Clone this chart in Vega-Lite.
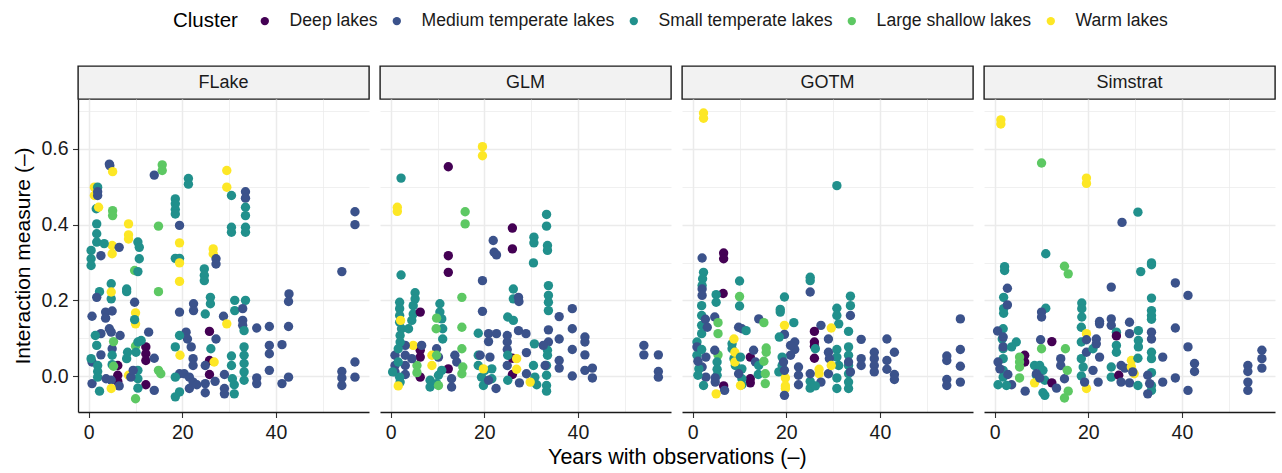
{
"$schema": "https://vega.github.io/schema/vega-lite/v6.json",
"padding": {"left": 12, "top": 12, "right": 5, "bottom": 5},
"spacing": 9,
"title": {"text": "Years with observations (\u2013)", "orient": "bottom", "anchor": "middle", "fontSize": 21.5, "fontWeight": "normal", "color": "#000000", "offset": 5, "dx": 33},
"datasets": {
"strips": [{"m":"F","label":"FLake"},{"m":"G","label":"GLM"},{"m":"O","label":"GOTM"},{"m":"S","label":"Simstrat"}],
"pts": [
{"m":"F","c":"M","x":4.4,"y":0.56},{"m":"F","c":"M","x":4.5,"y":0.556},{"m":"F","c":"W","x":5.1,"y":0.54},{"m":"F","c":"M","x":14.0,"y":0.531},{"m":"F","c":"L","x":15.7,"y":0.558},{"m":"F","c":"L","x":15.7,"y":0.543},{"m":"F","c":"S","x":21.3,"y":0.522},{"m":"F","c":"S","x":21.3,"y":0.507},{"m":"F","c":"W","x":29.5,"y":0.543},{"m":"F","c":"W","x":29.5,"y":0.499},{"m":"F","c":"S","x":30.5,"y":0.477},{"m":"F","c":"M","x":33.5,"y":0.487},{"m":"F","c":"M","x":33.5,"y":0.47},{"m":"F","c":"S","x":33.5,"y":0.446},{"m":"F","c":"S","x":33.5,"y":0.424},{"m":"F","c":"S","x":30.5,"y":0.393},{"m":"F","c":"S","x":30.5,"y":0.38},{"m":"F","c":"S","x":33.5,"y":0.393},{"m":"F","c":"S","x":33.5,"y":0.38},{"m":"F","c":"W","x":1.2,"y":0.499},{"m":"F","c":"W","x":1.2,"y":0.477},{"m":"F","c":"S","x":1.9,"y":0.499},{"m":"F","c":"M","x":1.9,"y":0.477},{"m":"F","c":"M","x":1.9,"y":0.487},{"m":"F","c":"S","x":1.6,"y":0.442},{"m":"F","c":"W","x":2.1,"y":0.446},{"m":"F","c":"L","x":5.1,"y":0.437},{"m":"F","c":"L","x":5.1,"y":0.424},{"m":"F","c":"S","x":18.5,"y":0.468},{"m":"F","c":"S","x":18.5,"y":0.455},{"m":"F","c":"S","x":18.5,"y":0.44},{"m":"F","c":"S","x":18.5,"y":0.428},{"m":"F","c":"M","x":19.4,"y":0.398},{"m":"F","c":"W","x":8.5,"y":0.402},{"m":"F","c":"W","x":8.5,"y":0.373},{"m":"F","c":"W","x":8.5,"y":0.362},{"m":"F","c":"L","x":14.9,"y":0.396},{"m":"F","c":"S","x":1.7,"y":0.402},{"m":"F","c":"S","x":1.7,"y":0.376},{"m":"F","c":"S","x":1.7,"y":0.354},{"m":"F","c":"S","x":10.5,"y":0.354},{"m":"F","c":"S","x":10.8,"y":0.34},{"m":"F","c":"W","x":5.0,"y":0.345},{"m":"F","c":"W","x":5.0,"y":0.323},{"m":"F","c":"M","x":6.5,"y":0.34},{"m":"F","c":"S","x":0.5,"y":0.332},{"m":"F","c":"S","x":0.5,"y":0.31},{"m":"F","c":"S","x":0.5,"y":0.292},{"m":"F","c":"S","x":3.3,"y":0.35},{"m":"F","c":"M","x":2.6,"y":0.318},{"m":"F","c":"S","x":10.8,"y":0.31},{"m":"F","c":"W","x":19.4,"y":0.352},{"m":"F","c":"S","x":18.5,"y":0.311},{"m":"F","c":"S","x":19.4,"y":0.311},{"m":"F","c":"W","x":19.4,"y":0.299},{"m":"F","c":"W","x":26.6,"y":0.336},{"m":"F","c":"W","x":26.6,"y":0.323},{"m":"F","c":"M","x":27.2,"y":0.31},{"m":"F","c":"M","x":27.2,"y":0.296},{"m":"F","c":"S","x":24.7,"y":0.283},{"m":"F","c":"S","x":24.7,"y":0.266},{"m":"F","c":"S","x":24.7,"y":0.252},{"m":"F","c":"L","x":9.8,"y":0.279},{"m":"F","c":"S","x":10.5,"y":0.276},{"m":"F","c":"W","x":19.4,"y":0.25},{"m":"F","c":"S","x":4.8,"y":0.244},{"m":"F","c":"S","x":4.8,"y":0.204},{"m":"F","c":"W","x":4.8,"y":0.222},{"m":"F","c":"S","x":2.3,"y":0.223},{"m":"F","c":"M","x":1.7,"y":0.208},{"m":"F","c":"S","x":8.1,"y":0.23},{"m":"F","c":"S","x":8.1,"y":0.223},{"m":"F","c":"L","x":14.9,"y":0.223},{"m":"F","c":"M","x":9.8,"y":0.195},{"m":"F","c":"M","x":0.7,"y":0.158},{"m":"F","c":"M","x":3.6,"y":0.169},{"m":"F","c":"M","x":3.6,"y":0.153},{"m":"F","c":"M","x":5.0,"y":0.172},{"m":"F","c":"S","x":26.0,"y":0.208},{"m":"F","c":"S","x":26.0,"y":0.191},{"m":"F","c":"M","x":22.4,"y":0.191},{"m":"F","c":"M","x":22.4,"y":0.173},{"m":"F","c":"M","x":19.4,"y":0.169},{"m":"F","c":"S","x":24.9,"y":0.164},{"m":"F","c":"S","x":31.2,"y":0.2},{"m":"F","c":"S","x":31.2,"y":0.173},{"m":"F","c":"S","x":33.5,"y":0.2},{"m":"F","c":"M","x":32.9,"y":0.178},{"m":"F","c":"M","x":28.8,"y":0.158},{"m":"F","c":"W","x":10.0,"y":0.167},{"m":"F","c":"W","x":10.0,"y":0.138},{"m":"F","c":"S","x":9.8,"y":0.149},{"m":"F","c":"M","x":32.9,"y":0.147},{"m":"F","c":"M","x":32.9,"y":0.134},{"m":"F","c":"S","x":33.2,"y":0.12},{"m":"F","c":"W","x":29.5,"y":0.138},{"m":"F","c":"M","x":35.9,"y":0.127},{"m":"F","c":"M","x":38.6,"y":0.131},{"m":"F","c":"M","x":42.8,"y":0.217},{"m":"F","c":"M","x":42.7,"y":0.197},{"m":"F","c":"M","x":42.7,"y":0.131},{"m":"F","c":"M","x":54.1,"y":0.276},{"m":"F","c":"M","x":56.9,"y":0.434},{"m":"F","c":"M","x":56.9,"y":0.4},{"m":"F","c":"M","x":54.1,"y":0.012},{"m":"F","c":"M","x":54.1,"y":-0.005},{"m":"F","c":"M","x":54.1,"y":-0.025},{"m":"F","c":"M","x":56.9,"y":0.037},{"m":"F","c":"M","x":56.9,"y":-0.003},{"m":"F","c":"D","x":25.8,"y":0.118},{"m":"F","c":"D","x":25.8,"y":0.041},{"m":"F","c":"D","x":25.8,"y":0.004},{"m":"F","c":"D","x":12.2,"y":0.077},{"m":"F","c":"D","x":12.2,"y":0.059},{"m":"F","c":"D","x":12.2,"y":0.041},{"m":"F","c":"D","x":12.2,"y":-0.023},{"m":"F","c":"D","x":6.2,"y":0.028},{"m":"F","c":"D","x":6.2,"y":0.002},{"m":"F","c":"D","x":6.2,"y":-0.014},{"m":"F","c":"M","x":41.3,"y":0.083},{"m":"F","c":"M","x":38.6,"y":0.081},{"m":"F","c":"M","x":38.6,"y":0.059},{"m":"F","c":"M","x":38.6,"y":0.015},{"m":"F","c":"M","x":42.7,"y":-0.003},{"m":"F","c":"M","x":41.3,"y":-0.02},{"m":"F","c":"M","x":35.9,"y":-0.005},{"m":"F","c":"M","x":35.9,"y":-0.02},{"m":"F","c":"M","x":12.8,"y":0.116},{"m":"F","c":"S","x":33.2,"y":0.077},{"m":"F","c":"S","x":33.2,"y":0.055},{"m":"F","c":"S","x":33.2,"y":0.033},{"m":"F","c":"S","x":33.2,"y":0.011},{"m":"F","c":"S","x":33.2,"y":-0.011},{"m":"F","c":"S","x":30.5,"y":0.053},{"m":"F","c":"S","x":30.5,"y":0.028},{"m":"F","c":"S","x":30.7,"y":-0.007},{"m":"F","c":"M","x":29.0,"y":0.004},{"m":"F","c":"M","x":29.0,"y":-0.033},{"m":"F","c":"M","x":29.0,"y":-0.047},{"m":"F","c":"S","x":31.1,"y":-0.023},{"m":"F","c":"S","x":31.1,"y":-0.047},{"m":"F","c":"W","x":26.8,"y":0.037},{"m":"F","c":"M","x":27.2,"y":0.098},{"m":"F","c":"M","x":24.9,"y":0.028},{"m":"F","c":"M","x":24.9,"y":-0.02},{"m":"F","c":"M","x":24.9,"y":-0.044},{"m":"F","c":"M","x":27.0,"y":-0.014},{"m":"F","c":"S","x":26.1,"y":0.072},{"m":"F","c":"M","x":20.8,"y":0.116},{"m":"F","c":"M","x":21.1,"y":0.098},{"m":"F","c":"M","x":21.9,"y":0.077},{"m":"F","c":"S","x":19.4,"y":0.107},{"m":"F","c":"S","x":18.5,"y":0.077},{"m":"F","c":"W","x":19.5,"y":0.055},{"m":"F","c":"M","x":22.3,"y":0.046},{"m":"F","c":"M","x":22.3,"y":0.028},{"m":"F","c":"M","x":19.4,"y":0.006},{"m":"F","c":"M","x":20.4,"y":0.006},{"m":"F","c":"M","x":21.5,"y":-0.003},{"m":"F","c":"M","x":22.3,"y":-0.016},{"m":"F","c":"M","x":21.5,"y":-0.033},{"m":"F","c":"M","x":23.1,"y":-0.023},{"m":"F","c":"S","x":18.5,"y":-0.003},{"m":"F","c":"S","x":19.4,"y":-0.042},{"m":"F","c":"S","x":18.5,"y":-0.055},{"m":"F","c":"M","x":14.0,"y":-0.038},{"m":"F","c":"L","x":14.9,"y":0.015},{"m":"F","c":"L","x":15.4,"y":0.006},{"m":"F","c":"S","x":10.5,"y":0.015},{"m":"F","c":"S","x":10.5,"y":-0.007},{"m":"F","c":"S","x":10.5,"y":-0.032},{"m":"F","c":"L","x":10.0,"y":-0.06},{"m":"F","c":"S","x":8.3,"y":0.063},{"m":"F","c":"S","x":8.1,"y":0.046},{"m":"F","c":"W","x":8.5,"y":0.002},{"m":"F","c":"M","x":9.0,"y":-0.003},{"m":"F","c":"M","x":9.5,"y":0.015},{"m":"F","c":"L","x":10.0,"y":0.079},{"m":"F","c":"S","x":10.1,"y":0.063},{"m":"F","c":"S","x":10.5,"y":0.09},{"m":"F","c":"S","x":11.2,"y":0.094},{"m":"F","c":"M","x":14.0,"y":0.047},{"m":"F","c":"M","x":0.7,"y":0.037},{"m":"F","c":"M","x":0.7,"y":-0.02},{"m":"F","c":"S","x":0.5,"y":0.046},{"m":"F","c":"S","x":1.7,"y":0.081},{"m":"F","c":"S","x":1.9,"y":0.028},{"m":"F","c":"S","x":1.9,"y":0.012},{"m":"F","c":"S","x":1.9,"y":-0.003},{"m":"F","c":"S","x":2.3,"y":-0.04},{"m":"F","c":"M","x":2.6,"y":0.112},{"m":"F","c":"M","x":2.6,"y":0.056},{"m":"F","c":"M","x":4.4,"y":0.125},{"m":"F","c":"M","x":4.8,"y":0.116},{"m":"F","c":"M","x":5.0,"y":0.072},{"m":"F","c":"L","x":5.3,"y":0.091},{"m":"F","c":"S","x":5.0,"y":0.055},{"m":"F","c":"S","x":5.0,"y":0.03},{"m":"F","c":"L","x":5.3,"y":0.026},{"m":"F","c":"M","x":3.7,"y":-0.007},{"m":"F","c":"M","x":4.8,"y":-0.011},{"m":"F","c":"M","x":6.5,"y":-0.026},{"m":"F","c":"W","x":4.8,"y":-0.033},{"m":"F","c":"M","x":6.7,"y":0.107},{"m":"F","c":"S","x":1.4,"y":0.107},
{"m":"G","c":"W","x":19.6,"y":0.606},{"m":"G","c":"W","x":19.6,"y":0.582},{"m":"G","c":"D","x":12.3,"y":0.553},{"m":"G","c":"S","x":2.2,"y":0.523},{"m":"G","c":"W","x":1.4,"y":0.446},{"m":"G","c":"W","x":1.4,"y":0.435},{"m":"G","c":"L","x":15.9,"y":0.434},{"m":"G","c":"L","x":15.9,"y":0.402},{"m":"G","c":"D","x":26.0,"y":0.391},{"m":"G","c":"D","x":26.0,"y":0.336},{"m":"G","c":"S","x":33.3,"y":0.427},{"m":"G","c":"S","x":33.3,"y":0.396},{"m":"G","c":"S","x":30.6,"y":0.367},{"m":"G","c":"S","x":30.6,"y":0.352},{"m":"G","c":"S","x":33.5,"y":0.345},{"m":"G","c":"S","x":33.5,"y":0.332},{"m":"G","c":"S","x":30.5,"y":0.299},{"m":"G","c":"M","x":21.9,"y":0.358},{"m":"G","c":"M","x":22.1,"y":0.327},{"m":"G","c":"M","x":22.6,"y":0.32},{"m":"G","c":"D","x":12.3,"y":0.318},{"m":"G","c":"D","x":12.3,"y":0.274},{"m":"G","c":"S","x":2.2,"y":0.267},{"m":"G","c":"M","x":19.6,"y":0.252},{"m":"G","c":"L","x":15.2,"y":0.208},{"m":"G","c":"S","x":26.2,"y":0.23},{"m":"G","c":"S","x":26.2,"y":0.204},{"m":"G","c":"M","x":27.3,"y":0.208},{"m":"G","c":"M","x":27.4,"y":0.197},{"m":"G","c":"S","x":33.7,"y":0.239},{"m":"G","c":"S","x":33.7,"y":0.213},{"m":"G","c":"S","x":33.7,"y":0.195},{"m":"G","c":"S","x":33.7,"y":0.173},{"m":"G","c":"S","x":1.9,"y":0.195},{"m":"G","c":"S","x":1.9,"y":0.178},{"m":"G","c":"S","x":1.9,"y":0.16},{"m":"G","c":"S","x":1.9,"y":0.142},{"m":"G","c":"S","x":2.3,"y":0.125},{"m":"G","c":"S","x":5.2,"y":0.22},{"m":"G","c":"S","x":5.2,"y":0.204},{"m":"G","c":"S","x":4.8,"y":0.186},{"m":"G","c":"S","x":4.8,"y":0.164},{"m":"G","c":"S","x":4.5,"y":0.147},{"m":"G","c":"S","x":3.8,"y":0.125},{"m":"G","c":"D","x":6.3,"y":0.169},{"m":"G","c":"S","x":10.5,"y":0.191},{"m":"G","c":"S","x":10.5,"y":0.169},{"m":"G","c":"S","x":10.9,"y":0.151},{"m":"G","c":"S","x":11.1,"y":0.125},{"m":"G","c":"S","x":11.1,"y":0.098},{"m":"G","c":"L","x":9.8,"y":0.153},{"m":"G","c":"L","x":9.7,"y":0.125},{"m":"G","c":"L","x":15.2,"y":0.129},{"m":"G","c":"L","x":15.2,"y":0.072},{"m":"G","c":"M","x":19.6,"y":0.171},{"m":"G","c":"S","x":25.0,"y":0.156},{"m":"G","c":"S","x":26.2,"y":0.147},{"m":"G","c":"M","x":27.3,"y":0.12},{"m":"G","c":"M","x":28.9,"y":0.112},{"m":"G","c":"M","x":33.7,"y":0.122},{"m":"G","c":"M","x":33.7,"y":0.09},{"m":"G","c":"M","x":36.0,"y":0.157},{"m":"G","c":"M","x":36.0,"y":0.098},{"m":"G","c":"M","x":38.8,"y":0.178},{"m":"G","c":"M","x":38.8,"y":0.125},{"m":"G","c":"M","x":38.8,"y":0.07},{"m":"G","c":"M","x":41.5,"y":0.103},{"m":"G","c":"M","x":41.5,"y":0.09},{"m":"G","c":"M","x":41.5,"y":0.056},{"m":"G","c":"M","x":41.5,"y":0.015},{"m":"G","c":"M","x":43.1,"y":0.021},{"m":"G","c":"M","x":43.1,"y":-0.005},{"m":"G","c":"M","x":38.8,"y":0.0},{"m":"G","c":"M","x":36.0,"y":0.041},{"m":"G","c":"M","x":36.0,"y":0.021},{"m":"G","c":"M","x":54.1,"y":0.081},{"m":"G","c":"M","x":54.1,"y":0.056},{"m":"G","c":"M","x":57.2,"y":0.056},{"m":"G","c":"M","x":57.2,"y":0.012},{"m":"G","c":"M","x":57.2,"y":-0.003},{"m":"G","c":"S","x":18.7,"y":0.113},{"m":"G","c":"M","x":20.9,"y":0.112},{"m":"G","c":"M","x":22.6,"y":0.112},{"m":"G","c":"M","x":20.9,"y":0.091},{"m":"G","c":"M","x":24.9,"y":0.107},{"m":"G","c":"M","x":24.9,"y":0.09},{"m":"G","c":"M","x":24.9,"y":0.07},{"m":"G","c":"M","x":24.9,"y":0.028},{"m":"G","c":"S","x":30.7,"y":0.085},{"m":"G","c":"M","x":29.0,"y":0.062},{"m":"G","c":"S","x":33.5,"y":0.068},{"m":"G","c":"S","x":33.5,"y":0.055},{"m":"G","c":"S","x":33.3,"y":0.028},{"m":"G","c":"S","x":33.3,"y":0.002},{"m":"G","c":"S","x":33.3,"y":-0.025},{"m":"G","c":"S","x":33.3,"y":-0.04},{"m":"G","c":"M","x":32.6,"y":0.081},{"m":"G","c":"M","x":33.0,"y":0.028},{"m":"G","c":"D","x":26.0,"y":0.047},{"m":"G","c":"D","x":26.0,"y":0.004},{"m":"G","c":"W","x":26.9,"y":0.046},{"m":"G","c":"W","x":26.9,"y":0.018},{"m":"G","c":"S","x":25.0,"y":0.055},{"m":"G","c":"S","x":25.0,"y":-0.011},{"m":"G","c":"M","x":27.5,"y":-0.018},{"m":"G","c":"S","x":30.5,"y":0.028},{"m":"G","c":"S","x":30.8,"y":-0.003},{"m":"G","c":"S","x":31.2,"y":-0.023},{"m":"G","c":"W","x":29.8,"y":-0.016},{"m":"G","c":"M","x":29.0,"y":0.006},{"m":"G","c":"S","x":18.7,"y":0.055},{"m":"G","c":"S","x":18.7,"y":0.028},{"m":"G","c":"S","x":19.4,"y":-0.003},{"m":"G","c":"S","x":19.8,"y":-0.025},{"m":"G","c":"S","x":20.1,"y":0.015},{"m":"G","c":"S","x":21.6,"y":0.019},{"m":"G","c":"S","x":21.6,"y":-0.007},{"m":"G","c":"W","x":19.8,"y":0.019},{"m":"G","c":"M","x":19.1,"y":0.055},{"m":"G","c":"M","x":21.2,"y":0.05},{"m":"G","c":"M","x":20.9,"y":-0.011},{"m":"G","c":"M","x":22.5,"y":-0.033},{"m":"G","c":"D","x":12.3,"y":0.019},{"m":"G","c":"M","x":13.0,"y":-0.007},{"m":"G","c":"M","x":13.0,"y":-0.029},{"m":"G","c":"M","x":13.7,"y":0.055},{"m":"G","c":"M","x":14.1,"y":0.037},{"m":"G","c":"L","x":15.4,"y":0.024},{"m":"G","c":"L","x":15.2,"y":0.006},{"m":"G","c":"M","x":9.8,"y":0.072},{"m":"G","c":"M","x":10.2,"y":0.05},{"m":"G","c":"W","x":8.8,"y":0.055},{"m":"G","c":"W","x":8.8,"y":0.028},{"m":"G","c":"S","x":8.4,"y":-0.011},{"m":"G","c":"S","x":8.4,"y":-0.029},{"m":"G","c":"S","x":9.8,"y":-0.02},{"m":"G","c":"S","x":10.2,"y":0.002},{"m":"G","c":"S","x":10.9,"y":0.015},{"m":"G","c":"L","x":9.8,"y":0.055},{"m":"G","c":"L","x":10.2,"y":-0.025},{"m":"G","c":"D","x":6.3,"y":0.068},{"m":"G","c":"D","x":6.3,"y":0.05},{"m":"G","c":"D","x":6.3,"y":-0.003},{"m":"G","c":"W","x":4.8,"y":0.081},{"m":"G","c":"M","x":6.6,"y":0.081},{"m":"G","c":"L","x":5.6,"y":0.028},{"m":"G","c":"L","x":5.6,"y":0.009},{"m":"G","c":"M","x":3.1,"y":0.081},{"m":"G","c":"M","x":3.1,"y":0.055},{"m":"G","c":"M","x":3.1,"y":0.028},{"m":"G","c":"M","x":3.1,"y":0.004},{"m":"G","c":"M","x":0.9,"y":0.055},{"m":"G","c":"M","x":0.9,"y":0.028},{"m":"G","c":"M","x":0.9,"y":0.011},{"m":"G","c":"S","x":0.4,"y":0.011},{"m":"G","c":"S","x":1.9,"y":-0.003},{"m":"G","c":"S","x":2.0,"y":-0.016},{"m":"G","c":"W","x":1.6,"y":-0.026},{"m":"G","c":"S","x":2.0,"y":0.107},{"m":"G","c":"S","x":2.0,"y":0.09},{"m":"G","c":"S","x":1.6,"y":0.072},{"m":"G","c":"S","x":1.6,"y":0.037},{"m":"G","c":"W","x":2.1,"y":0.147},{"m":"G","c":"M","x":4.5,"y":0.046},
{"m":"O","c":"W","x":2.3,"y":0.695},{"m":"O","c":"W","x":2.3,"y":0.681},{"m":"O","c":"S","x":30.8,"y":0.503},{"m":"O","c":"D","x":6.6,"y":0.325},{"m":"O","c":"D","x":6.6,"y":0.31},{"m":"O","c":"M","x":2.0,"y":0.312},{"m":"O","c":"S","x":2.3,"y":0.274},{"m":"O","c":"S","x":2.1,"y":0.257},{"m":"O","c":"S","x":2.0,"y":0.239},{"m":"O","c":"M","x":2.0,"y":0.23},{"m":"O","c":"M","x":2.0,"y":0.213},{"m":"O","c":"D","x":6.5,"y":0.218},{"m":"O","c":"S","x":5.0,"y":0.215},{"m":"O","c":"S","x":5.0,"y":0.195},{"m":"O","c":"S","x":10.0,"y":0.251},{"m":"O","c":"L","x":10.0,"y":0.21},{"m":"O","c":"S","x":10.0,"y":0.185},{"m":"O","c":"S","x":25.1,"y":0.261},{"m":"O","c":"S","x":25.1,"y":0.252},{"m":"O","c":"M","x":25.1,"y":0.222},{"m":"O","c":"S","x":19.6,"y":0.209},{"m":"O","c":"S","x":18.7,"y":0.176},{"m":"O","c":"S","x":18.7,"y":0.169},{"m":"O","c":"S","x":33.7,"y":0.211},{"m":"O","c":"S","x":33.7,"y":0.186},{"m":"O","c":"M","x":33.7,"y":0.16},{"m":"O","c":"S","x":30.8,"y":0.179},{"m":"O","c":"S","x":30.8,"y":0.16},{"m":"O","c":"S","x":31.2,"y":0.138},{"m":"O","c":"S","x":1.9,"y":0.186},{"m":"O","c":"S","x":1.9,"y":0.16},{"m":"O","c":"S","x":1.9,"y":0.134},{"m":"O","c":"S","x":1.9,"y":0.112},{"m":"O","c":"M","x":2.7,"y":0.15},{"m":"O","c":"M","x":3.1,"y":0.129},{"m":"O","c":"M","x":4.7,"y":0.156},{"m":"O","c":"L","x":5.4,"y":0.141},{"m":"O","c":"L","x":5.4,"y":0.112},{"m":"O","c":"M","x":14.1,"y":0.151},{"m":"O","c":"L","x":15.2,"y":0.141},{"m":"O","c":"M","x":9.8,"y":0.129},{"m":"O","c":"M","x":10.5,"y":0.125},{"m":"O","c":"S","x":11.4,"y":0.12},{"m":"O","c":"S","x":21.6,"y":0.141},{"m":"O","c":"W","x":19.6,"y":0.134},{"m":"O","c":"M","x":19.6,"y":0.11},{"m":"O","c":"S","x":18.5,"y":0.103},{"m":"O","c":"W","x":29.6,"y":0.127},{"m":"O","c":"M","x":27.4,"y":0.134},{"m":"O","c":"D","x":26.0,"y":0.118},{"m":"O","c":"D","x":26.0,"y":0.09},{"m":"O","c":"D","x":26.0,"y":0.079},{"m":"O","c":"D","x":26.0,"y":0.047},{"m":"O","c":"M","x":29.0,"y":0.098},{"m":"O","c":"S","x":33.3,"y":0.118},{"m":"O","c":"M","x":36.0,"y":0.097},{"m":"O","c":"M","x":41.5,"y":0.098},{"m":"O","c":"M","x":57.2,"y":0.151},{"m":"O","c":"M","x":57.2,"y":0.07},{"m":"O","c":"M","x":57.2,"y":0.026},{"m":"O","c":"M","x":57.2,"y":-0.016},{"m":"O","c":"M","x":54.3,"y":0.053},{"m":"O","c":"M","x":54.3,"y":0.041},{"m":"O","c":"M","x":54.3,"y":-0.009},{"m":"O","c":"M","x":54.3,"y":-0.025},{"m":"O","c":"M","x":43.1,"y":0.063},{"m":"O","c":"M","x":38.8,"y":0.063},{"m":"O","c":"M","x":38.8,"y":0.046},{"m":"O","c":"M","x":38.8,"y":0.028},{"m":"O","c":"M","x":38.8,"y":0.011},{"m":"O","c":"M","x":41.5,"y":0.041},{"m":"O","c":"M","x":41.5,"y":0.018},{"m":"O","c":"M","x":43.1,"y":0.004},{"m":"O","c":"M","x":43.1,"y":-0.009},{"m":"O","c":"M","x":36.0,"y":0.046},{"m":"O","c":"M","x":36.0,"y":0.028},{"m":"O","c":"S","x":33.3,"y":0.077},{"m":"O","c":"S","x":33.3,"y":0.055},{"m":"O","c":"S","x":33.3,"y":0.028},{"m":"O","c":"S","x":33.3,"y":0.006},{"m":"O","c":"S","x":33.3,"y":-0.016},{"m":"O","c":"S","x":33.3,"y":-0.033},{"m":"O","c":"M","x":33.3,"y":0.037},{"m":"O","c":"M","x":33.7,"y":0.011},{"m":"O","c":"S","x":30.8,"y":0.07},{"m":"O","c":"S","x":30.8,"y":0.05},{"m":"O","c":"S","x":31.2,"y":0.028},{"m":"O","c":"S","x":30.8,"y":-0.005},{"m":"O","c":"S","x":30.8,"y":-0.033},{"m":"O","c":"M","x":29.0,"y":0.063},{"m":"O","c":"M","x":29.2,"y":0.046},{"m":"O","c":"M","x":29.0,"y":0.006},{"m":"O","c":"W","x":29.6,"y":0.028},{"m":"O","c":"W","x":27.0,"y":0.018},{"m":"O","c":"W","x":27.0,"y":0.006},{"m":"O","c":"M","x":27.4,"y":-0.016},{"m":"O","c":"S","x":25.1,"y":-0.014},{"m":"O","c":"S","x":25.1,"y":-0.032},{"m":"O","c":"S","x":26.2,"y":-0.026},{"m":"O","c":"M","x":25.1,"y":0.006},{"m":"O","c":"S","x":26.2,"y":0.072},{"m":"O","c":"M","x":21.8,"y":0.09},{"m":"O","c":"M","x":21.8,"y":0.07},{"m":"O","c":"M","x":20.9,"y":0.081},{"m":"O","c":"M","x":20.9,"y":0.055},{"m":"O","c":"M","x":22.6,"y":0.024},{"m":"O","c":"M","x":22.6,"y":0.002},{"m":"O","c":"M","x":22.6,"y":-0.023},{"m":"O","c":"S","x":19.1,"y":0.05},{"m":"O","c":"S","x":19.1,"y":0.028},{"m":"O","c":"S","x":18.4,"y":0.011},{"m":"O","c":"W","x":19.8,"y":-0.005},{"m":"O","c":"W","x":19.8,"y":-0.026},{"m":"O","c":"W","x":19.8,"y":-0.033},{"m":"O","c":"M","x":19.6,"y":-0.051},{"m":"O","c":"M","x":19.4,"y":0.037},{"m":"O","c":"M","x":19.6,"y":0.015},{"m":"O","c":"D","x":12.3,"y":0.05},{"m":"O","c":"D","x":12.3,"y":-0.007},{"m":"O","c":"D","x":12.3,"y":-0.018},{"m":"O","c":"M","x":13.0,"y":0.068},{"m":"O","c":"M","x":13.4,"y":0.037},{"m":"O","c":"S","x":14.0,"y":0.004},{"m":"O","c":"S","x":14.1,"y":0.028},{"m":"O","c":"L","x":15.7,"y":0.074},{"m":"O","c":"L","x":15.7,"y":0.063},{"m":"O","c":"L","x":15.2,"y":0.039},{"m":"O","c":"L","x":15.5,"y":0.006},{"m":"O","c":"L","x":15.5,"y":-0.02},{"m":"O","c":"S","x":8.4,"y":0.085},{"m":"O","c":"S","x":8.4,"y":0.072},{"m":"O","c":"S","x":8.8,"y":0.046},{"m":"O","c":"S","x":9.1,"y":0.028},{"m":"O","c":"W","x":8.8,"y":0.098},{"m":"O","c":"W","x":9.0,"y":0.063},{"m":"O","c":"W","x":9.0,"y":0.037},{"m":"O","c":"S","x":10.2,"y":0.05},{"m":"O","c":"S","x":10.5,"y":0.019},{"m":"O","c":"S","x":10.5,"y":-0.007},{"m":"O","c":"S","x":10.5,"y":-0.023},{"m":"O","c":"W","x":10.2,"y":-0.025},{"m":"O","c":"M","x":9.8,"y":0.006},{"m":"O","c":"D","x":6.6,"y":-0.026},{"m":"O","c":"M","x":6.8,"y":-0.038},{"m":"O","c":"W","x":5.0,"y":-0.047},{"m":"O","c":"L","x":5.4,"y":0.056},{"m":"O","c":"S","x":5.2,"y":0.037},{"m":"O","c":"S","x":5.2,"y":0.018},{"m":"O","c":"S","x":5.2,"y":0.002},{"m":"O","c":"M","x":4.7,"y":0.068},{"m":"O","c":"M","x":4.8,"y":-0.016},{"m":"O","c":"M","x":2.8,"y":-0.003},{"m":"O","c":"M","x":2.8,"y":0.05},{"m":"O","c":"M","x":2.0,"y":0.024},{"m":"O","c":"S","x":0.9,"y":0.09},{"m":"O","c":"S","x":0.9,"y":0.055},{"m":"O","c":"S","x":1.3,"y":0.019},{"m":"O","c":"S","x":1.1,"y":0.002},{"m":"O","c":"S","x":2.3,"y":-0.025},{"m":"O","c":"M","x":0.9,"y":0.077},{"m":"O","c":"M","x":1.1,"y":0.039},{"m":"O","c":"S","x":1.9,"y":0.07},{"m":"O","c":"M","x":4.8,"y":-0.005},
{"m":"S","c":"W","x":1.3,"y":0.677},{"m":"S","c":"W","x":1.3,"y":0.666},{"m":"S","c":"L","x":10.0,"y":0.563},{"m":"S","c":"W","x":19.6,"y":0.523},{"m":"S","c":"W","x":19.6,"y":0.509},{"m":"S","c":"S","x":30.6,"y":0.433},{"m":"S","c":"M","x":27.2,"y":0.406},{"m":"S","c":"S","x":10.9,"y":0.323},{"m":"S","c":"L","x":14.9,"y":0.29},{"m":"S","c":"L","x":15.7,"y":0.27},{"m":"S","c":"S","x":33.5,"y":0.299},{"m":"S","c":"S","x":33.5,"y":0.294},{"m":"S","c":"S","x":31.2,"y":0.276},{"m":"S","c":"S","x":2.1,"y":0.289},{"m":"S","c":"S","x":2.1,"y":0.279},{"m":"S","c":"M","x":2.7,"y":0.232},{"m":"S","c":"M","x":24.9,"y":0.235},{"m":"S","c":"M","x":38.6,"y":0.246},{"m":"S","c":"M","x":41.3,"y":0.213},{"m":"S","c":"S","x":1.9,"y":0.208},{"m":"S","c":"S","x":1.9,"y":0.178},{"m":"S","c":"S","x":1.9,"y":0.166},{"m":"S","c":"M","x":2.7,"y":0.188},{"m":"S","c":"S","x":33.5,"y":0.206},{"m":"S","c":"S","x":33.5,"y":0.173},{"m":"S","c":"S","x":33.5,"y":0.16},{"m":"S","c":"S","x":33.5,"y":0.15},{"m":"S","c":"S","x":18.6,"y":0.193},{"m":"S","c":"S","x":18.6,"y":0.178},{"m":"S","c":"S","x":18.6,"y":0.156},{"m":"S","c":"S","x":10.9,"y":0.179},{"m":"S","c":"M","x":10.0,"y":0.169},{"m":"S","c":"M","x":10.0,"y":0.156},{"m":"S","c":"M","x":22.4,"y":0.144},{"m":"S","c":"M","x":22.4,"y":0.138},{"m":"S","c":"M","x":24.9,"y":0.151},{"m":"S","c":"M","x":24.9,"y":0.134},{"m":"S","c":"M","x":28.8,"y":0.142},{"m":"S","c":"M","x":28.8,"y":0.112},{"m":"S","c":"S","x":18.5,"y":0.129},{"m":"S","c":"S","x":30.7,"y":0.12},{"m":"S","c":"S","x":30.7,"y":0.094},{"m":"S","c":"S","x":30.7,"y":0.077},{"m":"S","c":"M","x":33.5,"y":0.116},{"m":"S","c":"M","x":33.5,"y":0.098},{"m":"S","c":"M","x":38.6,"y":0.127},{"m":"S","c":"M","x":41.3,"y":0.077},{"m":"S","c":"M","x":42.7,"y":0.033},{"m":"S","c":"M","x":42.7,"y":0.012},{"m":"S","c":"M","x":38.6,"y":-0.005},{"m":"S","c":"M","x":41.3,"y":-0.038},{"m":"S","c":"M","x":35.9,"y":0.05},{"m":"S","c":"M","x":35.9,"y":-0.016},{"m":"S","c":"M","x":54.1,"y":0.028},{"m":"S","c":"M","x":54.1,"y":0.012},{"m":"S","c":"M","x":54.1,"y":-0.016},{"m":"S","c":"M","x":54.1,"y":-0.038},{"m":"S","c":"M","x":57.1,"y":0.068},{"m":"S","c":"M","x":57.1,"y":0.046},{"m":"S","c":"M","x":57.1,"y":0.021},{"m":"S","c":"S","x":1.8,"y":0.125},{"m":"S","c":"S","x":1.6,"y":0.098},{"m":"S","c":"S","x":1.8,"y":0.072},{"m":"S","c":"S","x":1.8,"y":0.046},{"m":"S","c":"S","x":1.8,"y":0.015},{"m":"S","c":"S","x":1.8,"y":-0.003},{"m":"S","c":"M","x":0.6,"y":0.119},{"m":"S","c":"M","x":1.8,"y":0.103},{"m":"S","c":"M","x":1.8,"y":0.077},{"m":"S","c":"M","x":0.7,"y":0.037},{"m":"S","c":"M","x":1.1,"y":0.019},{"m":"S","c":"S","x":4.6,"y":0.09},{"m":"S","c":"S","x":3.6,"y":0.077},{"m":"S","c":"D","x":6.4,"y":0.055},{"m":"S","c":"D","x":6.4,"y":0.037},{"m":"S","c":"L","x":5.3,"y":0.05},{"m":"S","c":"L","x":5.3,"y":0.037},{"m":"S","c":"L","x":5.3,"y":0.024},{"m":"S","c":"L","x":5.3,"y":-0.005},{"m":"S","c":"M","x":2.8,"y":0.004},{"m":"S","c":"M","x":3.6,"y":-0.023},{"m":"S","c":"M","x":6.5,"y":-0.04},{"m":"S","c":"S","x":0.7,"y":-0.023},{"m":"S","c":"S","x":2.5,"y":-0.025},{"m":"S","c":"D","x":12.2,"y":0.091},{"m":"S","c":"M","x":9.8,"y":0.096},{"m":"S","c":"L","x":10.0,"y":0.072},{"m":"S","c":"S","x":8.5,"y":0.028},{"m":"S","c":"S","x":9.6,"y":0.028},{"m":"S","c":"S","x":10.3,"y":0.015},{"m":"S","c":"S","x":8.9,"y":0.002},{"m":"S","c":"S","x":10.7,"y":-0.011},{"m":"S","c":"W","x":8.5,"y":-0.018},{"m":"S","c":"M","x":8.9,"y":0.006},{"m":"S","c":"M","x":9.6,"y":-0.005},{"m":"S","c":"S","x":10.3,"y":-0.044},{"m":"S","c":"S","x":10.7,"y":-0.051},{"m":"S","c":"D","x":12.2,"y":-0.018},{"m":"S","c":"M","x":13.2,"y":-0.032},{"m":"S","c":"M","x":14.1,"y":0.046},{"m":"S","c":"M","x":14.1,"y":0.028},{"m":"S","c":"M","x":14.9,"y":-0.007},{"m":"S","c":"L","x":15.1,"y":0.072},{"m":"S","c":"L","x":15.5,"y":0.015},{"m":"S","c":"L","x":15.7,"y":-0.04},{"m":"S","c":"L","x":14.9,"y":-0.058},{"m":"S","c":"S","x":18.5,"y":0.09},{"m":"S","c":"S","x":18.5,"y":0.046},{"m":"S","c":"S","x":18.9,"y":0.024},{"m":"S","c":"S","x":18.5,"y":0.0},{"m":"S","c":"W","x":19.6,"y":0.112},{"m":"S","c":"W","x":19.6,"y":-0.033},{"m":"S","c":"M","x":19.6,"y":0.096},{"m":"S","c":"M","x":19.6,"y":0.063},{"m":"S","c":"M","x":19.2,"y":-0.016},{"m":"S","c":"S","x":21.0,"y":0.072},{"m":"S","c":"M","x":21.7,"y":0.098},{"m":"S","c":"M","x":21.7,"y":0.085},{"m":"S","c":"M","x":21.0,"y":0.015},{"m":"S","c":"M","x":22.1,"y":-0.016},{"m":"S","c":"M","x":22.4,"y":0.05},{"m":"S","c":"S","x":24.9,"y":0.024},{"m":"S","c":"S","x":24.9,"y":-0.003},{"m":"S","c":"S","x":26.0,"y":0.063},{"m":"S","c":"S","x":26.0,"y":0.116},{"m":"S","c":"S","x":26.0,"y":0.081},{"m":"S","c":"D","x":26.0,"y":0.106},{"m":"S","c":"D","x":26.5,"y":0.002},{"m":"S","c":"M","x":27.0,"y":0.028},{"m":"S","c":"M","x":27.8,"y":0.021},{"m":"S","c":"M","x":27.0,"y":-0.016},{"m":"S","c":"M","x":28.8,"y":-0.018},{"m":"S","c":"W","x":29.2,"y":0.041},{"m":"S","c":"W","x":29.2,"y":0.024},{"m":"S","c":"W","x":29.8,"y":0.006},{"m":"S","c":"S","x":30.6,"y":0.047},{"m":"S","c":"S","x":30.6,"y":-0.025},{"m":"S","c":"M","x":29.5,"y":0.011},{"m":"S","c":"S","x":33.5,"y":0.063},{"m":"S","c":"S","x":33.5,"y":0.046},{"m":"S","c":"S","x":33.5,"y":0.009},{"m":"S","c":"S","x":33.5,"y":-0.025},{"m":"S","c":"S","x":33.5,"y":-0.038},{"m":"S","c":"M","x":32.7,"y":0.002},{"m":"S","c":"M","x":33.1,"y":-0.02},{"m":"S","c":"M","x":32.7,"y":-0.047}
]},
"hconcat": [
{"bounds": "flush", "spacing": 0, "vconcat": [
 {"data": {"name": "strips"}, "transform": [{"filter": "datum.m == 'F'"}], "width": 291, "height": 33, "view": {"fill": "#f2f2f2", "stroke": "#1a1a1a", "strokeWidth": 1.4}, "mark": {"type": "text", "fontSize": 18, "color": "#1a1a1a"}, "encoding": {"text": {"field": "label"}}},
 {"data": {"name": "pts"}, "transform": [{"filter": "datum.m == 'F'"}], "width": 291, "height": 313, "mark": {"type": "circle", "size": 88, "opacity": 1},
  "encoding": {
   "x": {"field": "x", "type": "quantitative", "scale": {"domain": [-2.3, 59.9], "nice": false, "zero": false}, "axis": {"title": null, "values": [0,10,20,30,40,50], "labelExpr": "datum.value % 20 == 0 ? datum.label : ''", "tickOpacity": {"condition": {"test": "datum.value % 20 == 0", "value": 1}, "value": 0}, "gridWidth": {"condition": {"test": "datum.value % 20 == 0", "value": 1.5}, "value": 0.75}}},
   "y": {"field": "y", "type": "quantitative", "scale": {"domain": [-0.095, 0.732], "nice": false, "zero": false}, "axis": {"title": "Interaction measure (\u2013)", "values": [-0.1,0,0.1,0.2,0.3,0.4,0.5,0.6,0.7], "format": ".1f", "labelExpr": "abs(round(datum.value*10)) % 2 == 0 ? datum.label : ''", "tickOpacity": {"condition": {"test": "abs(round(datum.value*10)) % 2 == 0", "value": 1}, "value": 0}, "gridWidth": {"condition": {"test": "abs(round(datum.value*10)) % 2 == 0", "value": 1.5}, "value": 0.75}}},
   "color": {"field": "c", "type": "nominal", "scale": {"domain": ["D","M","S","L","W"], "range": ["#440154","#3B528B","#21908C","#5DC863","#FDE725"]},
     "legend": {"title": "Cluster", "orient": "none", "legendX": 95, "legendY": -54, "direction": "horizontal", "columns": 5, "titleOrient": "left", "labelLimit": 400, "labelExpr": "datum.label == 'D' ? 'Deep lakes' : datum.label == 'M' ? 'Medium temperate lakes' : datum.label == 'S' ? 'Small temperate lakes' : datum.label == 'L' ? 'Large shallow lakes' : 'Warm lakes'"}}
  }}
]},
{"bounds": "flush", "spacing": 0, "vconcat": [
 {"data": {"name": "strips"}, "transform": [{"filter": "datum.m == 'G'"}], "width": 291, "height": 33, "view": {"fill": "#f2f2f2", "stroke": "#1a1a1a", "strokeWidth": 1.4}, "mark": {"type": "text", "fontSize": 18, "color": "#1a1a1a"}, "encoding": {"text": {"field": "label"}}},
 {"data": {"name": "pts"}, "transform": [{"filter": "datum.m == 'G'"}], "width": 291, "height": 313, "mark": {"type": "circle", "size": 88, "opacity": 1},
  "encoding": {
   "x": {"field": "x", "type": "quantitative", "scale": {"domain": [-2.3, 59.9], "nice": false, "zero": false}, "axis": {"title": null, "values": [0,10,20,30,40,50], "labelExpr": "datum.value % 20 == 0 ? datum.label : ''", "tickOpacity": {"condition": {"test": "datum.value % 20 == 0", "value": 1}, "value": 0}, "gridWidth": {"condition": {"test": "datum.value % 20 == 0", "value": 1.5}, "value": 0.75}}},
   "y": {"field": "y", "type": "quantitative", "scale": {"domain": [-0.095, 0.732], "nice": false, "zero": false}, "axis": {"title": null, "labels": false, "ticks": false, "domain": false, "values": [-0.1,0,0.1,0.2,0.3,0.4,0.5,0.6,0.7], "gridWidth": {"condition": {"test": "abs(round(datum.value*10)) % 2 == 0", "value": 1.5}, "value": 0.75}}},
   "color": {"field": "c", "type": "nominal", "scale": {"domain": ["D","M","S","L","W"], "range": ["#440154","#3B528B","#21908C","#5DC863","#FDE725"]}, "legend": null}
  }}
]},
{"bounds": "flush", "spacing": 0, "vconcat": [
 {"data": {"name": "strips"}, "transform": [{"filter": "datum.m == 'O'"}], "width": 291, "height": 33, "view": {"fill": "#f2f2f2", "stroke": "#1a1a1a", "strokeWidth": 1.4}, "mark": {"type": "text", "fontSize": 18, "color": "#1a1a1a"}, "encoding": {"text": {"field": "label"}}},
 {"data": {"name": "pts"}, "transform": [{"filter": "datum.m == 'O'"}], "width": 291, "height": 313, "mark": {"type": "circle", "size": 88, "opacity": 1},
  "encoding": {
   "x": {"field": "x", "type": "quantitative", "scale": {"domain": [-2.3, 59.9], "nice": false, "zero": false}, "axis": {"title": null, "values": [0,10,20,30,40,50], "labelExpr": "datum.value % 20 == 0 ? datum.label : ''", "tickOpacity": {"condition": {"test": "datum.value % 20 == 0", "value": 1}, "value": 0}, "gridWidth": {"condition": {"test": "datum.value % 20 == 0", "value": 1.5}, "value": 0.75}}},
   "y": {"field": "y", "type": "quantitative", "scale": {"domain": [-0.095, 0.732], "nice": false, "zero": false}, "axis": {"title": null, "labels": false, "ticks": false, "domain": false, "values": [-0.1,0,0.1,0.2,0.3,0.4,0.5,0.6,0.7], "gridWidth": {"condition": {"test": "abs(round(datum.value*10)) % 2 == 0", "value": 1.5}, "value": 0.75}}},
   "color": {"field": "c", "type": "nominal", "scale": {"domain": ["D","M","S","L","W"], "range": ["#440154","#3B528B","#21908C","#5DC863","#FDE725"]}, "legend": null}
  }}
]},
{"bounds": "flush", "spacing": 0, "vconcat": [
 {"data": {"name": "strips"}, "transform": [{"filter": "datum.m == 'S'"}], "width": 291, "height": 33, "view": {"fill": "#f2f2f2", "stroke": "#1a1a1a", "strokeWidth": 1.4}, "mark": {"type": "text", "fontSize": 18, "color": "#1a1a1a"}, "encoding": {"text": {"field": "label"}}},
 {"data": {"name": "pts"}, "transform": [{"filter": "datum.m == 'S'"}], "width": 291, "height": 313, "mark": {"type": "circle", "size": 88, "opacity": 1},
  "encoding": {
   "x": {"field": "x", "type": "quantitative", "scale": {"domain": [-2.3, 59.9], "nice": false, "zero": false}, "axis": {"title": null, "values": [0,10,20,30,40,50], "labelExpr": "datum.value % 20 == 0 ? datum.label : ''", "tickOpacity": {"condition": {"test": "datum.value % 20 == 0", "value": 1}, "value": 0}, "gridWidth": {"condition": {"test": "datum.value % 20 == 0", "value": 1.5}, "value": 0.75}}},
   "y": {"field": "y", "type": "quantitative", "scale": {"domain": [-0.095, 0.732], "nice": false, "zero": false}, "axis": {"title": null, "labels": false, "ticks": false, "domain": false, "values": [-0.1,0,0.1,0.2,0.3,0.4,0.5,0.6,0.7], "gridWidth": {"condition": {"test": "abs(round(datum.value*10)) % 2 == 0", "value": 1.5}, "value": 0.75}}},
   "color": {"field": "c", "type": "nominal", "scale": {"domain": ["D","M","S","L","W"], "range": ["#440154","#3B528B","#21908C","#5DC863","#FDE725"]}, "legend": null}
  }}
]}
],
"config": {
 "font": "Liberation Sans",
 "view": {"stroke": null},
 "axis": {"gridColor": "#ebebeb", "domainColor": "#1a1a1a", "domainWidth": 1.3, "tickColor": "#333333", "tickWidth": 1.1, "tickSize": 5.5, "labelFontSize": 19.5, "labelColor": "#1a1a1a", "titleFontSize": 21, "titleFontWeight": "normal", "titleColor": "#000000"},
 "axisX": {"labelFlush": false, "labelPadding": 6},
 "axisY": {"titlePadding": 7, "labelPadding": 4.5},
 "legend": {"titleFontSize": 20.5, "titleFontWeight": "normal", "titleColor": "#000000", "labelFontSize": 17.6, "labelColor": "#1a1a1a", "symbolSize": 70, "symbolType": "circle", "symbolStrokeWidth": 0, "labelOffset": 16, "columnPadding": 10, "titlePadding": 18, "titleBaseline": "middle"}
}
}
